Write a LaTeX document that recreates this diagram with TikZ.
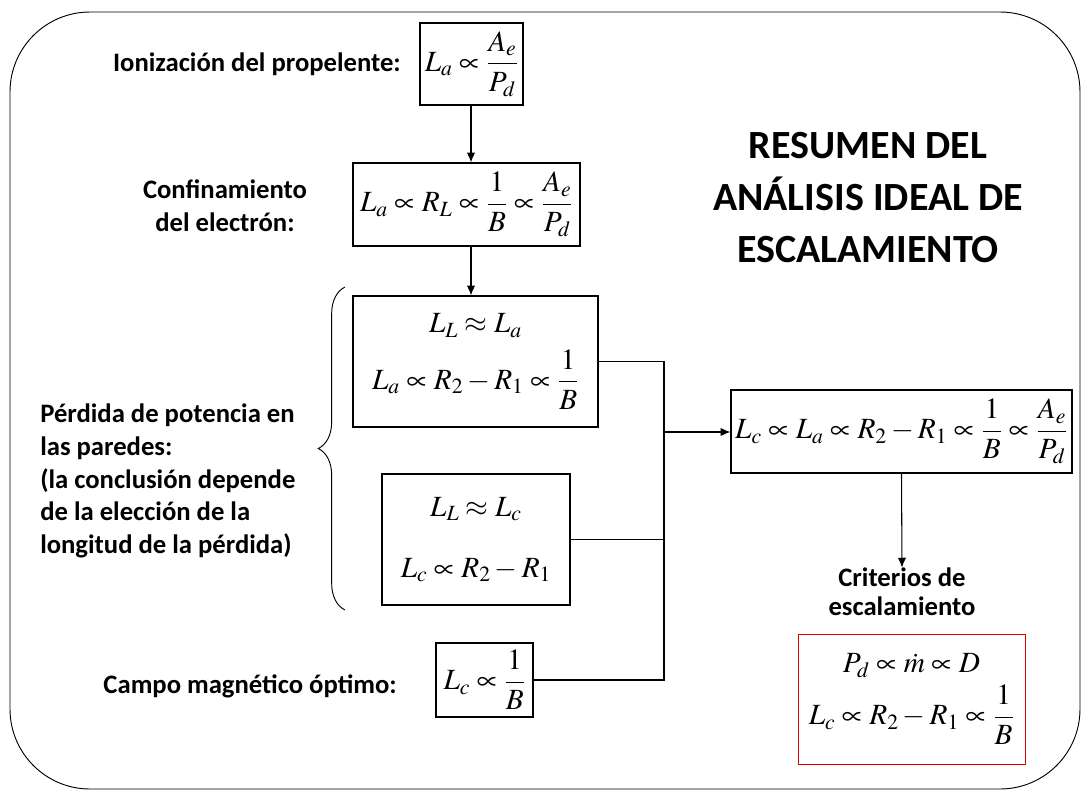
\documentclass[tikz,border=0pt]{standalone}
\usepackage{amsmath}
\usepackage{mathptmx}
\usepackage[no-math]{fontspec}
\setmainfont{Carlito}
\usepackage{tikz}
\usetikzlibrary{arrows.meta,positioning,decorations.pathreplacing}

\begin{document}
\begin{tikzpicture}[
  x=0.75pt, y=-0.75pt,
  eqbox/.style={draw, line width=0.8pt, inner sep=0pt, align=center, font=\fontsize{22}{26}\selectfont},
  lbl/.style={font=\fontsize{20}{24.5}\selectfont\bfseries, inner sep=0pt},
  edg/.style={-{Latex[length=2.6mm,width=2.2mm]}, line width=0.8pt},
  bus/.style={line width=0.8pt}
]
\useasboundingbox (0,0) rectangle (1083,793);
\draw[line width=0.7pt, rounded corners=60pt] (10,12) rectangle (1080,789);

% ecuaciones
\node[eqbox, minimum width=103*0.75pt, minimum height=82*0.75pt] (ion) at (471.5,64) {$L_a \propto \dfrac{A_e}{P_d}$};
\node[eqbox, minimum width=227*0.75pt, minimum height=83*0.75pt] (conf) at (466.5,204.5) {$L_a \propto R_L \propto \dfrac{1}{B} \propto \dfrac{A_e}{P_d}$};
\node[eqbox, minimum width=245*0.75pt, minimum height=131*0.75pt] (perdA) at (475.5,361.5) {$L_L \approx L_a$\\[8pt]$L_a \propto R_2 - R_1 \propto \dfrac{1}{B}$};
\node[eqbox, minimum width=188*0.75pt, minimum height=131*0.75pt] (perdC) at (476,539.5) {$L_L \approx L_c$\\[20pt]$L_c \propto R_2 - R_1$};
\node[eqbox, minimum width=97*0.75pt, minimum height=74*0.75pt] (campo) at (484.5,680) {$L_c \propto \dfrac{1}{B}$};
\node[eqbox, minimum width=341*0.75pt, minimum height=83*0.75pt] (res) at (901.5,431.5) {$L_c \propto L_a \propto R_2 - R_1 \propto \dfrac{1}{B} \propto \dfrac{A_e}{P_d}$};
\node[eqbox, draw=red!85!black, line width=0.6pt, minimum width=227*0.75pt, minimum height=130*0.75pt] (crit) at (911.5,699) {$P_d \propto \dot{m} \propto D$\\[5pt]$L_c \propto R_2 - R_1 \propto \dfrac{1}{B}$};

% etiquetas
\node[lbl, anchor=east] (lion) at (401,64) {Ionización del propelente:};
\node[lbl, align=center] (lconf) at (225,206) {Confinamiento\\del electrón:};
\node[lbl, align=left, anchor=west] (lperd) at (40,481) {Pérdida de potencia en\\las paredes:\\(la conclusión depende\\de la elección de la\\longitud de la pérdida)};
\node[lbl, anchor=east] (lcampo) at (397,686) {Campo magnético óptimo:};
\node[lbl, align=center, font=\fontsize{20}{22}\selectfont\bfseries] (lcrit) at (902,592) {Criterios de\\escalamiento};
\node[font=\fontsize{30}{39}\selectfont\bfseries, align=center, inner sep=0pt] (titulo) at (868,198) {RESUMEN DEL\\ANÁLISIS IDEAL DE\\ESCALAMIENTO};

% llave
\coordinate (llaveA) at (345,610);
\coordinate (llaveB) at (345,287);
\draw[line width=0.7pt, decorate, decoration={brace, amplitude=20pt}] (llaveA) -- (llaveB);

% conexiones
\coordinate (barra) at (664,432);
\draw[edg] (ion.south -| 471,0) -- (conf.north -| 471,0);
\draw[edg] (conf.south -| 471,0) -- (perdA.north -| 471,0);
\draw[bus] (perdA.east) -- (perdA.east -| barra) -- (campo.east -| barra) -- (campo.east);
\draw[bus] (perdC.east) -- (perdC.east -| barra);
\draw[edg] (barra) -- (res.west |- barra);
\draw[edg] (res.south) -- (lcrit.north);
\end{tikzpicture}
\end{document}
